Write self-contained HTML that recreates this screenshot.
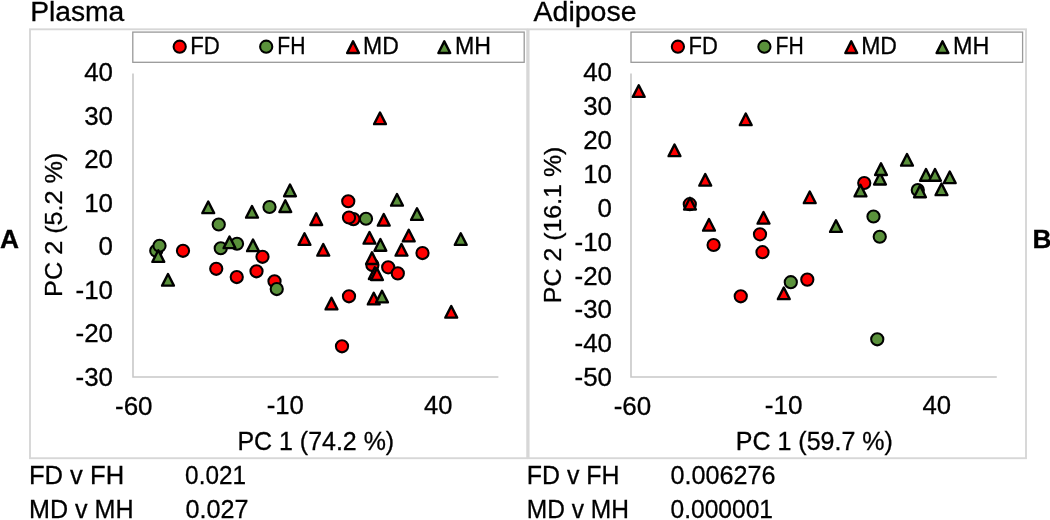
<!DOCTYPE html>
<html><head><meta charset="utf-8"><title>PCA score plots</title>
<style>
html,body{margin:0;padding:0;background:#fff;}
body{width:1050px;height:520px;overflow:hidden;}
svg{display:block;filter:blur(0.35px);}
text{font-family:"Liberation Sans",sans-serif;fill:#000;stroke:#000;stroke-width:0.3px;}
</style></head><body>
<svg width="1050" height="520" viewBox="0 0 1050 520">
<rect width="1050" height="520" fill="#fff"/>
<g fill="none" stroke="#d7d7d7" stroke-width="1.9">
<rect x="30" y="29.3" width="497.2" height="428.9"/>
<rect x="528.6" y="29.3" width="497.4" height="428.9"/>
</g>
<g stroke="#c8c8c8" stroke-width="1.6" fill="none">
<path d="M133 73.5 V377 H498.4"/>
<path d="M631 73.5 V377 H996.8"/>
</g>
<g fill="#fff" stroke="#999" stroke-width="1.3">
<rect x="132.8" y="32.1" width="391.4" height="30.2"/>
<rect x="631" y="32.1" width="391.6" height="30.2"/>
</g>
<text transform="translate(30.15,21.18) scale(1.0311,1)" font-size="27.37">Plasma</text>
<text transform="translate(533.52,20.95) scale(1.0314,1)" font-size="27.66">Adipose</text>
<text transform="translate(0.07,248.00) scale(1.0091,1)" font-size="26.09" font-weight="bold">A</text>
<text transform="translate(1032.40,248.10) scale(1.0091,1)" font-size="26.09" font-weight="bold">B</text>
<text transform="translate(113.05,81.25) scale(1.0233,1)" font-size="25.35" text-anchor="end">40</text>
<text transform="translate(113.05,124.79) scale(1.0233,1)" font-size="25.35" text-anchor="end">30</text>
<text transform="translate(113.05,168.32) scale(1.0233,1)" font-size="25.35" text-anchor="end">20</text>
<text transform="translate(113.05,211.86) scale(1.0233,1)" font-size="25.35" text-anchor="end">10</text>
<text transform="translate(113.05,255.39) scale(1.0233,1)" font-size="25.35" text-anchor="end">0</text>
<text transform="translate(113.05,298.93) scale(1.0233,1)" font-size="25.35" text-anchor="end">-10</text>
<text transform="translate(113.05,342.46) scale(1.0233,1)" font-size="25.35" text-anchor="end">-20</text>
<text transform="translate(113.05,386.00) scale(1.0233,1)" font-size="25.35" text-anchor="end">-30</text>
<text transform="translate(612.05,81.25) scale(1.0233,1)" font-size="25.35" text-anchor="end">40</text>
<text transform="translate(612.05,115.13) scale(1.0233,1)" font-size="25.35" text-anchor="end">30</text>
<text transform="translate(612.05,149.01) scale(1.0233,1)" font-size="25.35" text-anchor="end">20</text>
<text transform="translate(612.05,182.88) scale(1.0233,1)" font-size="25.35" text-anchor="end">10</text>
<text transform="translate(612.05,216.76) scale(1.0233,1)" font-size="25.35" text-anchor="end">0</text>
<text transform="translate(612.05,250.64) scale(1.0233,1)" font-size="25.35" text-anchor="end">-10</text>
<text transform="translate(612.05,284.52) scale(1.0233,1)" font-size="25.35" text-anchor="end">-20</text>
<text transform="translate(612.05,318.39) scale(1.0233,1)" font-size="25.35" text-anchor="end">-30</text>
<text transform="translate(612.05,352.27) scale(1.0233,1)" font-size="25.35" text-anchor="end">-40</text>
<text transform="translate(612.05,386.15) scale(1.0233,1)" font-size="25.35" text-anchor="end">-50</text>
<text transform="translate(115.00,414.55) scale(1.0452,1)" font-size="24.86">-60</text>
<text transform="translate(266.73,414.05) scale(1.0362,1)" font-size="24.86">-10</text>
<text transform="translate(424.00,414.25) scale(1.0047,1)" font-size="25.35">40</text>
<text transform="translate(613.70,414.55) scale(1.0453,1)" font-size="24.86">-60</text>
<text transform="translate(764.77,414.05) scale(1.0523,1)" font-size="24.86">-10</text>
<text transform="translate(922.50,414.25) scale(1.0140,1)" font-size="25.35">40</text>
<text transform="translate(237.40,449.95) scale(0.9846,1)" font-size="25.37">PC 1 (74.2 %)</text>
<text transform="translate(735.80,449.60) scale(0.9842,1)" font-size="25.43">PC 1 (59.7 %)</text>
<text transform="translate(62.05,296.88) rotate(-90) scale(1.0286,1)" font-size="24.52">PC 2 (5.2 %)</text>
<text transform="translate(561.05,303.18) rotate(-90) scale(1.0238,1)" font-size="24.36">PC 2 (16.1 %)</text>
<circle cx="179.7" cy="46.7" r="6.1" fill="#ff0000" stroke="#000" stroke-width="2.05"/>
<text transform="translate(190.25,53.65) scale(0.9329,1)" font-size="23.78">FD</text>
<circle cx="266.2" cy="46.7" r="6.1" fill="#5a913b" stroke="#000" stroke-width="2.05"/>
<text transform="translate(277.27,53.65) scale(0.8876,1)" font-size="23.78">FH</text>
<path d="M353.05 41.35 L358.95 53.05 L347.15 53.05 Z" fill="#ff0000" stroke="#000" stroke-width="2.4" stroke-linejoin="round"/>
<text transform="translate(363.02,53.65) scale(0.9662,1)" font-size="23.78">MD</text>
<path d="M444.30 41.35 L450.20 53.05 L438.40 53.05 Z" fill="#5a913b" stroke="#000" stroke-width="2.4" stroke-linejoin="round"/>
<text transform="translate(454.95,53.65) scale(0.9750,1)" font-size="23.78">MH</text>
<circle cx="677.9" cy="46.7" r="6.1" fill="#ff0000" stroke="#000" stroke-width="2.05"/>
<text transform="translate(688.57,53.65) scale(0.9243,1)" font-size="23.78">FD</text>
<circle cx="764.4" cy="46.7" r="6.1" fill="#5a913b" stroke="#000" stroke-width="2.05"/>
<text transform="translate(775.48,53.65) scale(0.8889,1)" font-size="23.78">FH</text>
<path d="M851.25 41.35 L857.15 53.05 L845.35 53.05 Z" fill="#ff0000" stroke="#000" stroke-width="2.4" stroke-linejoin="round"/>
<text transform="translate(861.23,53.65) scale(0.9668,1)" font-size="23.78">MD</text>
<path d="M942.50 41.35 L948.40 53.05 L936.60 53.05 Z" fill="#5a913b" stroke="#000" stroke-width="2.4" stroke-linejoin="round"/>
<text transform="translate(953.02,53.65) scale(0.9824,1)" font-size="23.78">MH</text>
<circle cx="183" cy="250.75" r="6.1" fill="#ff0000" stroke="#000" stroke-width="2.05"/>
<circle cx="216.25" cy="268.75" r="6.1" fill="#ff0000" stroke="#000" stroke-width="2.05"/>
<circle cx="236.75" cy="277" r="6.1" fill="#ff0000" stroke="#000" stroke-width="2.05"/>
<circle cx="256.5" cy="271.25" r="6.1" fill="#ff0000" stroke="#000" stroke-width="2.05"/>
<circle cx="262.5" cy="256.75" r="6.1" fill="#ff0000" stroke="#000" stroke-width="2.05"/>
<circle cx="274.5" cy="281.25" r="6.1" fill="#ff0000" stroke="#000" stroke-width="2.05"/>
<circle cx="348.25" cy="201.25" r="6.1" fill="#ff0000" stroke="#000" stroke-width="2.05"/>
<circle cx="353.4" cy="219.1" r="6.1" fill="#ff0000" stroke="#000" stroke-width="2.05"/>
<circle cx="349" cy="217.5" r="6.1" fill="#ff0000" stroke="#000" stroke-width="2.05"/>
<circle cx="422.5" cy="253" r="6.1" fill="#ff0000" stroke="#000" stroke-width="2.05"/>
<circle cx="372.4" cy="265" r="6.1" fill="#ff0000" stroke="#000" stroke-width="2.05"/>
<circle cx="388.2" cy="267.3" r="6.1" fill="#ff0000" stroke="#000" stroke-width="2.05"/>
<circle cx="397.8" cy="273.4" r="6.1" fill="#ff0000" stroke="#000" stroke-width="2.05"/>
<circle cx="349" cy="296.25" r="6.1" fill="#ff0000" stroke="#000" stroke-width="2.05"/>
<circle cx="342" cy="346.25" r="6.1" fill="#ff0000" stroke="#000" stroke-width="2.05"/>
<circle cx="156.25" cy="250.75" r="6.1" fill="#5a913b" stroke="#000" stroke-width="2.05"/>
<circle cx="159.5" cy="245.75" r="6.1" fill="#5a913b" stroke="#000" stroke-width="2.05"/>
<circle cx="218.75" cy="224.5" r="6.1" fill="#5a913b" stroke="#000" stroke-width="2.05"/>
<circle cx="220.75" cy="248.25" r="6.1" fill="#5a913b" stroke="#000" stroke-width="2.05"/>
<circle cx="237" cy="243.75" r="6.1" fill="#5a913b" stroke="#000" stroke-width="2.05"/>
<circle cx="269.5" cy="207" r="6.1" fill="#5a913b" stroke="#000" stroke-width="2.05"/>
<circle cx="276.75" cy="289" r="6.1" fill="#5a913b" stroke="#000" stroke-width="2.05"/>
<circle cx="366" cy="218.75" r="6.1" fill="#5a913b" stroke="#000" stroke-width="2.05"/>
<path d="M380.00 112.45 L385.90 124.15 L374.10 124.15 Z" fill="#ff0000" stroke="#000" stroke-width="2.4" stroke-linejoin="round"/>
<path d="M316.25 213.25 L322.15 224.95 L310.35 224.95 Z" fill="#ff0000" stroke="#000" stroke-width="2.4" stroke-linejoin="round"/>
<path d="M383.75 213.95 L389.65 225.65 L377.85 225.65 Z" fill="#ff0000" stroke="#000" stroke-width="2.4" stroke-linejoin="round"/>
<path d="M304.50 233.20 L310.40 244.90 L298.60 244.90 Z" fill="#ff0000" stroke="#000" stroke-width="2.4" stroke-linejoin="round"/>
<path d="M369.50 231.95 L375.40 243.65 L363.60 243.65 Z" fill="#ff0000" stroke="#000" stroke-width="2.4" stroke-linejoin="round"/>
<path d="M408.75 229.70 L414.65 241.40 L402.85 241.40 Z" fill="#ff0000" stroke="#000" stroke-width="2.4" stroke-linejoin="round"/>
<path d="M323.25 243.95 L329.15 255.65 L317.35 255.65 Z" fill="#ff0000" stroke="#000" stroke-width="2.4" stroke-linejoin="round"/>
<path d="M401.50 243.95 L407.40 255.65 L395.60 255.65 Z" fill="#ff0000" stroke="#000" stroke-width="2.4" stroke-linejoin="round"/>
<path d="M372.00 252.35 L377.90 264.05 L366.10 264.05 Z" fill="#ff0000" stroke="#000" stroke-width="2.4" stroke-linejoin="round"/>
<path d="M374.80 267.35 L380.70 279.05 L368.90 279.05 Z" fill="#ff0000" stroke="#000" stroke-width="2.4" stroke-linejoin="round"/>
<path d="M377.00 268.25 L382.90 279.95 L371.10 279.95 Z" fill="#ff0000" stroke="#000" stroke-width="2.4" stroke-linejoin="round"/>
<path d="M331.50 297.70 L337.40 309.40 L325.60 309.40 Z" fill="#ff0000" stroke="#000" stroke-width="2.4" stroke-linejoin="round"/>
<path d="M373.75 292.70 L379.65 304.40 L367.85 304.40 Z" fill="#ff0000" stroke="#000" stroke-width="2.4" stroke-linejoin="round"/>
<path d="M451.25 305.95 L457.15 317.65 L445.35 317.65 Z" fill="#ff0000" stroke="#000" stroke-width="2.4" stroke-linejoin="round"/>
<path d="M290.00 184.55 L295.90 196.25 L284.10 196.25 Z" fill="#5a913b" stroke="#000" stroke-width="2.4" stroke-linejoin="round"/>
<path d="M285.30 200.25 L291.20 211.95 L279.40 211.95 Z" fill="#5a913b" stroke="#000" stroke-width="2.4" stroke-linejoin="round"/>
<path d="M397.00 193.95 L402.90 205.65 L391.10 205.65 Z" fill="#5a913b" stroke="#000" stroke-width="2.4" stroke-linejoin="round"/>
<path d="M417.00 208.20 L422.90 219.90 L411.10 219.90 Z" fill="#5a913b" stroke="#000" stroke-width="2.4" stroke-linejoin="round"/>
<path d="M460.75 233.20 L466.65 244.90 L454.85 244.90 Z" fill="#5a913b" stroke="#000" stroke-width="2.4" stroke-linejoin="round"/>
<path d="M380.40 239.05 L386.30 250.75 L374.50 250.75 Z" fill="#5a913b" stroke="#000" stroke-width="2.4" stroke-linejoin="round"/>
<path d="M158.30 250.20 L164.20 261.90 L152.40 261.90 Z" fill="#5a913b" stroke="#000" stroke-width="2.4" stroke-linejoin="round"/>
<path d="M168.00 273.95 L173.90 285.65 L162.10 285.65 Z" fill="#5a913b" stroke="#000" stroke-width="2.4" stroke-linejoin="round"/>
<path d="M208.25 201.45 L214.15 213.15 L202.35 213.15 Z" fill="#5a913b" stroke="#000" stroke-width="2.4" stroke-linejoin="round"/>
<path d="M252.00 205.95 L257.90 217.65 L246.10 217.65 Z" fill="#5a913b" stroke="#000" stroke-width="2.4" stroke-linejoin="round"/>
<path d="M229.50 236.45 L235.40 248.15 L223.60 248.15 Z" fill="#5a913b" stroke="#000" stroke-width="2.4" stroke-linejoin="round"/>
<path d="M253.00 239.45 L258.90 251.15 L247.10 251.15 Z" fill="#5a913b" stroke="#000" stroke-width="2.4" stroke-linejoin="round"/>
<path d="M382.00 290.70 L387.90 302.40 L376.10 302.40 Z" fill="#5a913b" stroke="#000" stroke-width="2.4" stroke-linejoin="round"/>
<circle cx="689.8" cy="204.2" r="6.1" fill="#ff0000" stroke="#000" stroke-width="2.05"/>
<circle cx="713.6" cy="245" r="6.1" fill="#ff0000" stroke="#000" stroke-width="2.05"/>
<circle cx="760" cy="234.3" r="6.1" fill="#ff0000" stroke="#000" stroke-width="2.05"/>
<circle cx="762.5" cy="252.2" r="6.1" fill="#ff0000" stroke="#000" stroke-width="2.05"/>
<circle cx="740.75" cy="296.25" r="6.1" fill="#ff0000" stroke="#000" stroke-width="2.05"/>
<circle cx="807.3" cy="279.6" r="6.1" fill="#ff0000" stroke="#000" stroke-width="2.05"/>
<circle cx="864.25" cy="183" r="6.1" fill="#ff0000" stroke="#000" stroke-width="2.05"/>
<circle cx="790.8" cy="282.2" r="6.1" fill="#5a913b" stroke="#000" stroke-width="2.05"/>
<circle cx="873.5" cy="216.5" r="6.1" fill="#5a913b" stroke="#000" stroke-width="2.05"/>
<circle cx="879.75" cy="236.75" r="6.1" fill="#5a913b" stroke="#000" stroke-width="2.05"/>
<circle cx="877.25" cy="339.25" r="6.1" fill="#5a913b" stroke="#000" stroke-width="2.05"/>
<circle cx="917.8" cy="190" r="6.1" fill="#5a913b" stroke="#000" stroke-width="2.05"/>
<path d="M638.75 85.20 L644.65 96.90 L632.85 96.90 Z" fill="#ff0000" stroke="#000" stroke-width="2.4" stroke-linejoin="round"/>
<path d="M745.75 113.45 L751.65 125.15 L739.85 125.15 Z" fill="#ff0000" stroke="#000" stroke-width="2.4" stroke-linejoin="round"/>
<path d="M674.50 144.45 L680.40 156.15 L668.60 156.15 Z" fill="#ff0000" stroke="#000" stroke-width="2.4" stroke-linejoin="round"/>
<path d="M705.25 173.95 L711.15 185.65 L699.35 185.65 Z" fill="#ff0000" stroke="#000" stroke-width="2.4" stroke-linejoin="round"/>
<path d="M690.00 197.75 L695.90 209.45 L684.10 209.45 Z" fill="#ff0000" stroke="#000" stroke-width="2.4" stroke-linejoin="round"/>
<path d="M709.00 218.95 L714.90 230.65 L703.10 230.65 Z" fill="#ff0000" stroke="#000" stroke-width="2.4" stroke-linejoin="round"/>
<path d="M763.50 211.95 L769.40 223.65 L757.60 223.65 Z" fill="#ff0000" stroke="#000" stroke-width="2.4" stroke-linejoin="round"/>
<path d="M783.80 287.45 L789.70 299.15 L777.90 299.15 Z" fill="#ff0000" stroke="#000" stroke-width="2.4" stroke-linejoin="round"/>
<path d="M809.75 191.45 L815.65 203.15 L803.85 203.15 Z" fill="#ff0000" stroke="#000" stroke-width="2.4" stroke-linejoin="round"/>
<path d="M836.00 220.20 L841.90 231.90 L830.10 231.90 Z" fill="#5a913b" stroke="#000" stroke-width="2.4" stroke-linejoin="round"/>
<path d="M860.50 184.70 L866.40 196.40 L854.60 196.40 Z" fill="#5a913b" stroke="#000" stroke-width="2.4" stroke-linejoin="round"/>
<path d="M880.00 172.75 L885.90 184.45 L874.10 184.45 Z" fill="#5a913b" stroke="#000" stroke-width="2.4" stroke-linejoin="round"/>
<path d="M881.00 163.35 L886.90 175.05 L875.10 175.05 Z" fill="#5a913b" stroke="#000" stroke-width="2.4" stroke-linejoin="round"/>
<path d="M907.00 153.95 L912.90 165.65 L901.10 165.65 Z" fill="#5a913b" stroke="#000" stroke-width="2.4" stroke-linejoin="round"/>
<path d="M926.00 169.05 L931.90 180.75 L920.10 180.75 Z" fill="#5a913b" stroke="#000" stroke-width="2.4" stroke-linejoin="round"/>
<path d="M935.00 169.05 L940.90 180.75 L929.10 180.75 Z" fill="#5a913b" stroke="#000" stroke-width="2.4" stroke-linejoin="round"/>
<path d="M949.75 171.45 L955.65 183.15 L943.85 183.15 Z" fill="#5a913b" stroke="#000" stroke-width="2.4" stroke-linejoin="round"/>
<path d="M941.50 183.45 L947.40 195.15 L935.60 195.15 Z" fill="#5a913b" stroke="#000" stroke-width="2.4" stroke-linejoin="round"/>
<path d="M920.00 185.55 L925.90 197.25 L914.10 197.25 Z" fill="#5a913b" stroke="#000" stroke-width="2.4" stroke-linejoin="round"/>
<text transform="translate(28.90,483.93) scale(0.9760,1)" font-size="26.23">FD v FH</text>
<text transform="translate(29.02,517.90) scale(0.9541,1)" font-size="26.31">MD v MH</text>
<text transform="translate(185.12,483.68) scale(0.9216,1)" font-size="26.41">0.021</text>
<text transform="translate(185.43,517.85) scale(0.9440,1)" font-size="26.70">0.027</text>
<text transform="translate(526.83,483.93) scale(0.9498,1)" font-size="26.23">FD v FH</text>
<text transform="translate(526.70,517.90) scale(0.9333,1)" font-size="26.31">MD v MH</text>
<text transform="translate(670.52,483.85) scale(0.9436,1)" font-size="26.70">0.006276</text>
<text transform="translate(670.52,517.65) scale(0.9207,1)" font-size="26.70">0.000001</text>
</svg></body></html>
